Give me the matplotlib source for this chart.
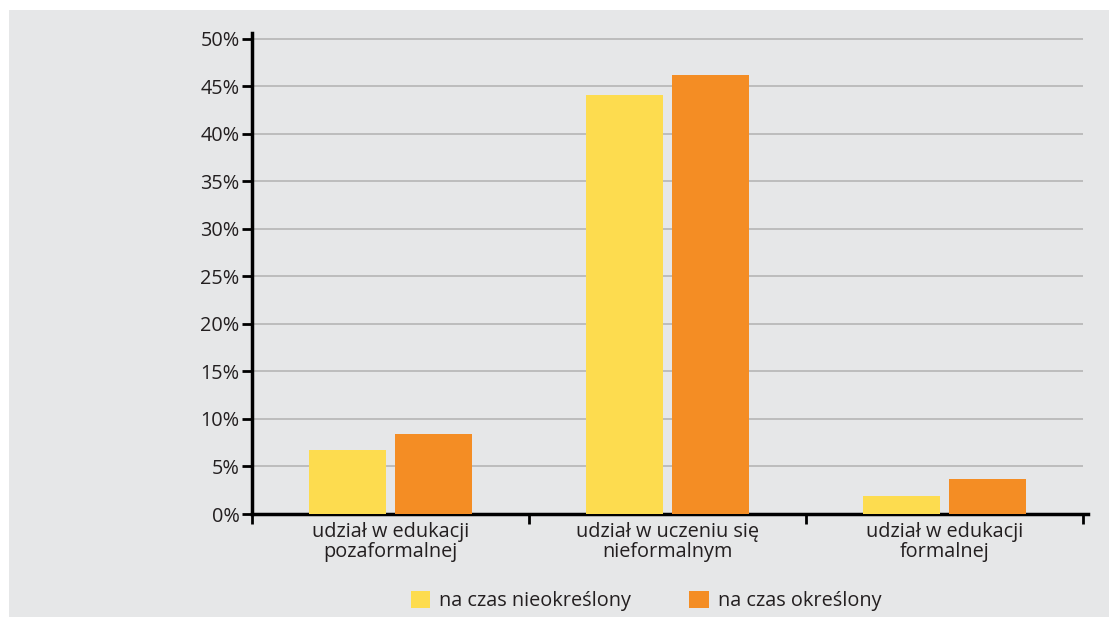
import matplotlib
matplotlib.use("Agg")
import matplotlib.pyplot as plt
from matplotlib.patches import Rectangle
import numpy as np

plt.rcParams['font.family'] = ['Open Sans', 'DejaVu Sans']

categories = ["udział w edukacji\npozaformalnej",
              "udział w uczeniu się\nnieformalnym",
              "udział w edukacji\nformalnej"]
series_names = ["na czas nieokreślony", "na czas określony"]
nieokreslony = [6.7, 44.1, 1.9]
okreslony = [8.4, 46.2, 3.7]
yticks = [0, 5, 10, 15, 20, 25, 30, 35, 40, 45, 50]

bg = "#e6e7e8"
yellow = "#fddc4f"
orange = "#f48d24"
ink = "#231f20"
fs = 14.3

W, H = 1109, 617
fig = plt.figure(figsize=(W / 100, H / 100), dpi=100, facecolor="white")
# grey panel, white strip on the left and top
fig.patches.append(Rectangle((9 / W, 0), 1 - 9 / W, 1 - 10 / H,
                             transform=fig.transFigure, facecolor=bg,
                             edgecolor="none", zorder=-10))

left, right = 252 / W, 1083 / W
bottom = 1 - 514 / H
top = 1 - 33 / H
ax = fig.add_axes([left, bottom, right - left + 5 / W, top - bottom])
ax.set_facecolor("none")

x = np.arange(len(categories))
bw = 0.28
off = 0.155
ax.bar(x - off, nieokreslony, bw, color=yellow, zorder=3)
ax.bar(x + off, okreslony, bw, color=orange, zorder=3)

ax.set_ylim(0, 50.6)
ax.set_xlim(-0.5, 2.5 + 5 / 277)
ax.hlines(yticks[1:], -0.5, 2.5, color="#b5b5b5", lw=1.2, zorder=1)

ax.set_yticks(yticks)
ax.set_yticklabels([f"{t}%" for t in yticks])
ax.set_xticks(x)
ax.set_xticklabels(categories, linespacing=0.95)
ax.set_xticks([-0.5, 0.5, 1.5, 2.5], minor=True)
ax.tick_params(axis="x", which="major", length=0, pad=6, labelsize=fs, colors=ink)
ax.tick_params(axis="x", which="minor", length=7, width=2, direction="out", color="black")
ax.tick_params(axis="y", length=7, width=2, pad=2, labelsize=fs, colors=ink)
ax.tick_params(axis="y", color="black")

for s in ["top", "right"]:
    ax.spines[s].set_visible(False)
for s in ["left", "bottom"]:
    ax.spines[s].set_linewidth(2.5)
    ax.spines[s].set_color("black")

handles = [Rectangle((0, 0), 1, 1, facecolor=yellow),
           Rectangle((0, 0), 1, 1, facecolor=orange)]
fig.legend(handles, series_names, loc="center", ncol=2,
           bbox_to_anchor=(646 / W, 1 - 601 / H), frameon=False,
           fontsize=fs, handlelength=1.0, handleheight=1.0,
           handletextpad=0.45, columnspacing=2.9, labelcolor=ink)

fig.savefig("out.png", dpi=100, facecolor="white")
